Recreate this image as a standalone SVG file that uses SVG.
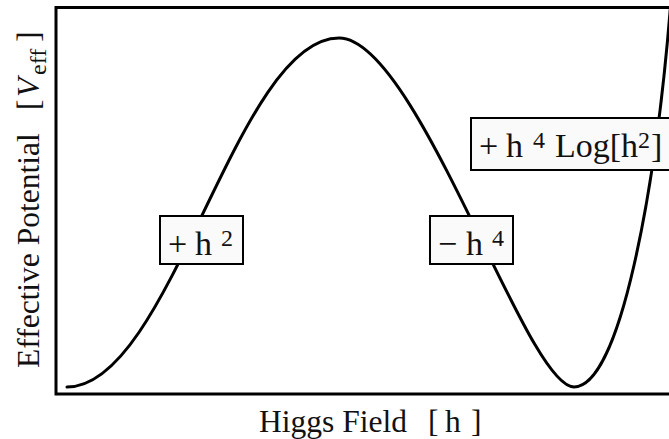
<svg xmlns="http://www.w3.org/2000/svg" width="669" height="439" viewBox="0 0 669 439">
<style>
  .t { font-family: "Liberation Serif", "Times New Roman", serif; fill: #111; }
  .frame { fill: none; stroke: #000; stroke-width: 3; }
  .curve { fill: none; stroke: #000; stroke-width: 3; stroke-linecap: round; }
  .box { fill: #fafafa; stroke: #000; stroke-width: 2; }
  .lbl { font-size: 34px; }
  .sup { font-size: 24px; }
  .ax { font-size: 31.5px; }
</style>
<rect width="669" height="439" fill="#fff"/>
<g id="frame">
  <rect class="frame" x="56" y="7.5" width="700" height="386.5"/>
</g>
<g id="connectors">
  <path class="curve" d="M67,387 C171,387 236,38 339,38 C417,38 526,387 574,387 C620,387 656,190 671,0"/>
</g>
<g id="node-h2">
  <rect class="box" x="160" y="216" width="83" height="48"/>
  <text class="t lbl" x="168" y="254.5">+<tspan x="195">h</tspan><tspan class="sup" x="221" y="245.5">2</tspan></text>
</g>
<g id="node-h4">
  <rect class="box" x="430" y="216" width="83" height="48"/>
  <text class="t lbl" x="438" y="254.5">−<tspan x="466">h</tspan><tspan class="sup" x="492" y="245.5">4</tspan></text>
</g>
<g id="node-log">
  <rect class="box" x="471" y="118" width="230" height="52"/>
  <text class="t lbl" x="479" y="157">+<tspan x="506">h</tspan><tspan class="sup" x="533" y="148">4</tspan><tspan x="555" y="157">Log[h</tspan><tspan class="sup" x="638" y="148" font-size="22">2</tspan><tspan x="651" y="157">]</tspan></text>
</g>
<g id="xlabel">
  <text class="t ax" x="259" y="432">Higgs Field<tspan x="428">[</tspan><tspan x="445">h</tspan><tspan x="471">]</tspan></text>
</g>
<g id="ylabel">
  <text class="t ax" transform="translate(39,368) rotate(-90)" x="0" y="0">Effective Potential<tspan x="258">[</tspan><tspan x="271" font-style="italic">V</tspan><tspan x="293" dy="7" class="sup">eff</tspan><tspan x="326" dy="-7">]</tspan></text>
</g>
</svg>
